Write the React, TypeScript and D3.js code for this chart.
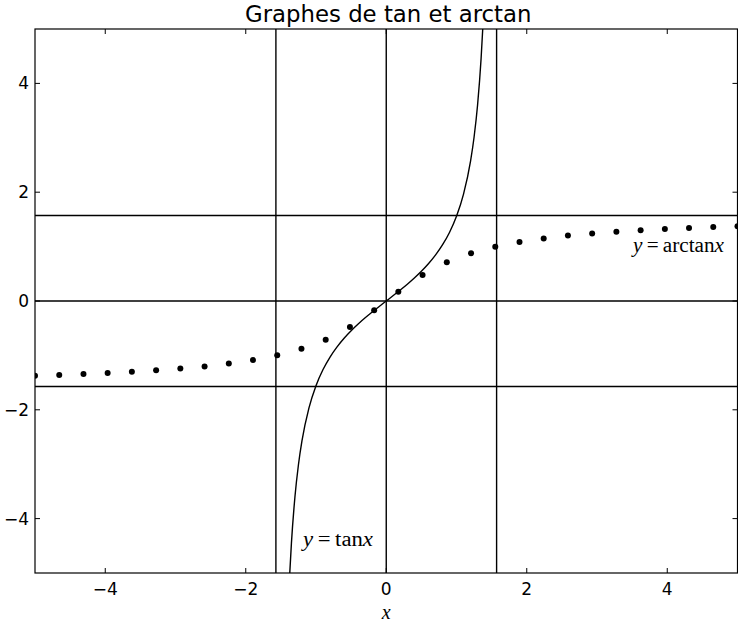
import { useRef, useEffect } from "react";
import * as d3 from "d3";

// arctan samples (dots)
const dotX = [
  -5, -4.655, -4.31, -3.966, -3.621, -3.276, -2.931, -2.586, -2.241, -1.897,
  -1.552, -1.207, -0.862, -0.517, -0.172, 0.172, 0.517, 0.862, 1.207, 1.552,
  1.897, 2.241, 2.586, 2.931, 3.276, 3.621, 3.966, 4.31, 4.655, 5
];
const dotY = [
  -1.373, -1.359, -1.343, -1.324, -1.301, -1.275, -1.242, -1.202, -1.151, -1.085,
  -0.999, -0.879, -0.711, -0.477, -0.171, 0.171, 0.477, 0.711, 0.879, 0.999,
  1.085, 1.151, 1.202, 1.242, 1.275, 1.301, 1.324, 1.343, 1.359, 1.373
];

// tan curve samples
const tanX = [
  -1.3734, -1.35, -1.3, -1.25, -1.2, -1.1, -1.0, -0.9, -0.8, -0.7, -0.6, -0.5,
  -0.4, -0.3, -0.2, -0.1, 0, 0.1, 0.2, 0.3, 0.4, 0.5, 0.6, 0.7, 0.8, 0.9, 1.0,
  1.1, 1.2, 1.25, 1.3, 1.35, 1.3734
];
const tanY = [
  -5, -4.455, -3.602, -3.01, -2.572, -1.965, -1.557, -1.26, -1.03, -0.842, -0.684,
  -0.546, -0.423, -0.309, -0.203, -0.1, 0, 0.1, 0.203, 0.309, 0.423, 0.546, 0.684,
  0.842, 1.03, 1.26, 1.557, 1.965, 2.572, 3.01, 3.602, 4.455, 5
];

const vLines = [-1.5708, 0, 1.5708];
const hLines = [-1.5708, 0, 1.5708];
const xTicks = [-4, -2, 0, 2, 4];
const yTicks = [-4, -2, 0, 2, 4];

export default function App() {
  const ref = useRef<SVGSVGElement>(null);

  useEffect(() => {
    const svg = d3.select(ref.current);
    svg.selectAll("*").remove();

    const width = 738;
    const height = 624;
    const margin = { top: 29, right: 0.5, bottom: 51, left: 35 };
    const x = d3.scaleLinear().domain([-5, 5]).range([margin.left, width - margin.right]);
    const y = d3.scaleLinear().domain([-5, 5]).range([height - margin.bottom, margin.top]);
    const font = "DejaVu Sans, sans-serif";

    svg.append("defs").append("clipPath").attr("id", "plot")
      .append("rect")
      .attr("x", x(-5)).attr("y", y(5))
      .attr("width", x(5) - x(-5)).attr("height", y(-5) - y(5));

    const plot = svg.append("g").attr("clip-path", "url(#plot)");

    vLines.forEach(v => {
      plot.append("line")
        .attr("x1", x(v)).attr("x2", x(v))
        .attr("y1", y(-5)).attr("y2", y(5))
        .attr("stroke", "#000").attr("stroke-width", 1.4);
    });
    hLines.forEach(v => {
      plot.append("line")
        .attr("x1", x(-5)).attr("x2", x(5))
        .attr("y1", y(v)).attr("y2", y(v))
        .attr("stroke", "#000").attr("stroke-width", 1.4);
    });

    const line = d3.line<number>()
      .x((_, i) => x(tanX[i]))
      .y(d => y(d))
      .curve(d3.curveMonotoneX);

    plot.append("path")
      .datum(tanY)
      .attr("d", line)
      .attr("fill", "none")
      .attr("stroke", "#000")
      .attr("stroke-width", 1.4);

    plot.selectAll("circle")
      .data(dotY)
      .enter()
      .append("circle")
      .attr("cx", (_, i) => x(dotX[i]))
      .attr("cy", d => y(d))
      .attr("r", 3)
      .attr("fill", "#000");

    // frame
    svg.append("rect")
      .attr("x", x(-5)).attr("y", y(5))
      .attr("width", x(5) - x(-5)).attr("height", y(-5) - y(5))
      .attr("fill", "none").attr("stroke", "#000").attr("stroke-width", 1.2);

    // inward ticks on all sides
    const tl = 5;
    const fmt = (t: number) => (t < 0 ? "\u2212" + Math.abs(t) : String(t));
    xTicks.forEach(t => {
      svg.append("line").attr("x1", x(t)).attr("x2", x(t))
        .attr("y1", y(-5)).attr("y2", y(-5) - tl).attr("stroke", "#000");
      svg.append("line").attr("x1", x(t)).attr("x2", x(t))
        .attr("y1", y(5)).attr("y2", y(5) + tl).attr("stroke", "#000");
      svg.append("text")
        .attr("x", x(t)).attr("y", y(-5) + 21.5)
        .attr("text-anchor", "middle")
        .attr("font-family", font).attr("font-size", 17)
        .text(fmt(t));
    });
    yTicks.forEach(t => {
      svg.append("line").attr("x1", x(-5)).attr("x2", x(-5) + tl)
        .attr("y1", y(t)).attr("y2", y(t)).attr("stroke", "#000");
      svg.append("line").attr("x1", x(5)).attr("x2", x(5) - tl)
        .attr("y1", y(t)).attr("y2", y(t)).attr("stroke", "#000");
      svg.append("text")
        .attr("x", x(-5) - 6).attr("y", y(t) + 6)
        .attr("text-anchor", "end")
        .attr("font-family", font).attr("font-size", 17)
        .text(fmt(t));
    });

    svg.append("text")
      .attr("x", (x(-5) + x(5)) / 2 + 2).attr("y", 22)
      .attr("text-anchor", "middle")
      .attr("font-family", font).attr("font-size", 22.8)
      .text("Graphes de tan et arctan");

    const mathLabel = (px: number, py: number, fn: string, w: number) => {
      const t = svg.append("text")
        .attr("x", px).attr("y", py)
        .attr("textLength", w)
        .attr("lengthAdjust", "spacingAndGlyphs")
        .attr("font-family", "Liberation Serif, serif").attr("font-size", 20);
      t.append("tspan").attr("font-style", "italic").text("y");
      t.append("tspan").text("\u2009=\u2009" + fn);
      t.append("tspan").attr("font-style", "italic").text("x");
    };
    mathLabel(633, 252, "arctan", 91);
    mathLabel(303, 546, "tan", 70);

    svg.append("text")
      .attr("x", x(0)).attr("y", 619)
      .attr("text-anchor", "middle")
      .attr("font-family", "Liberation Serif, serif").attr("font-style", "italic").attr("font-size", 20)
      .text("x");
  }, []);

  return (
    <svg
      ref={ref}
      width={738}
      height={624}
      style={{ position: "absolute", left: 0, top: 0, background: "#fff" }}
    />
  );
}
